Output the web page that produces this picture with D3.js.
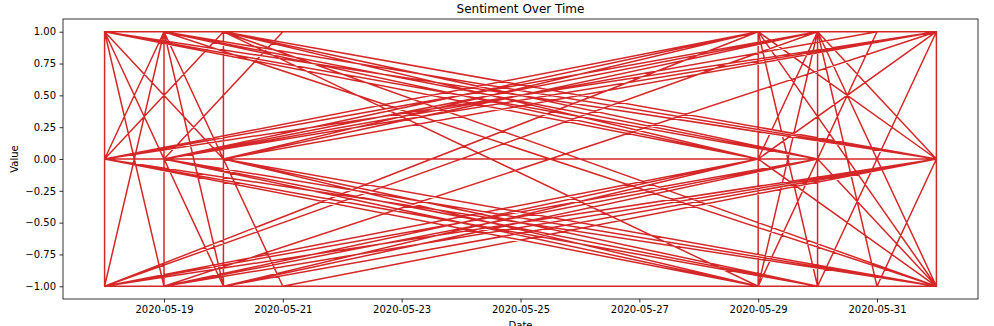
<!DOCTYPE html>
<html>
<head>
<meta charset="utf-8">
<script src="https://cdn.jsdelivr.net/npm/d3@7"></script>
<style>
  html, body { margin: 0; padding: 0; background: #fff; }
  svg { display: block; font-family: "DejaVu Sans", sans-serif; }
</style>
</head>
<body>
<svg id="chart" width="994" height="326"></svg>
<script>
// Sentiment readings in the order they were recorded (not sorted by date)
const dates = [
  "2020-05-18","2020-06-01","2020-06-01","2020-05-18","2020-05-18",
  "2020-05-19","2020-05-30","2020-05-19","2020-05-29","2020-05-20",
  "2020-06-01","2020-05-18","2020-05-29","2020-05-19","2020-05-30",
  "2020-05-20","2020-06-01","2020-05-19","2020-05-29","2020-05-18",
  "2020-05-30","2020-05-20","2020-06-01","2020-05-19","2020-05-31",
  "2020-05-18","2020-05-30","2020-05-18","2020-05-29","2020-05-20",
  "2020-06-01","2020-05-19","2020-05-30","2020-05-20","2020-05-29",
  "2020-05-18","2020-06-01","2020-05-20","2020-05-29","2020-05-19",
  "2020-05-30","2020-05-18","2020-05-29","2020-05-19","2020-06-01",
  "2020-05-20","2020-05-30","2020-05-19","2020-06-01","2020-05-18",
  "2020-05-29","2020-05-18","2020-06-01","2020-05-20","2020-05-30",
  "2020-05-19","2020-05-29","2020-05-18","2020-05-30","2020-05-19",
  "2020-06-01","2020-05-20","2020-05-30","2020-05-20","2020-05-29",
  "2020-05-19","2020-06-01","2020-05-18","2020-05-30","2020-05-18",
  "2020-05-29","2020-05-30","2020-06-01","2020-05-29","2020-06-01",
  "2020-05-30","2020-05-29","2020-05-31","2020-05-30","2020-06-01",
  "2020-05-29","2020-05-29","2020-05-19","2020-06-01","2020-05-18",
  "2020-05-30","2020-05-30","2020-05-20","2020-06-01","2020-05-19",
  "2020-05-29","2020-05-18","2020-05-30","2020-05-19","2020-05-31",
  "2020-05-21","2020-05-19","2020-05-20","2020-05-20","2020-05-18",
  "2020-05-19","2020-05-18","2020-05-19","2020-05-19","2020-05-20",
  "2020-05-18","2020-05-20","2020-05-21","2020-06-01","2020-05-19",
  "2020-05-29","2020-05-20","2020-06-01","2020-05-18","2020-05-30",
  "2020-05-19","2020-06-01","2020-05-20","2020-05-29","2020-05-18",
  "2020-06-01","2020-05-19","2020-05-29","2020-05-20","2020-05-30",
  "2020-05-18","2020-05-29","2020-05-19","2020-06-01","2020-05-20",
  "2020-05-30","2020-05-18","2020-06-01","2020-05-19","2020-05-29",
  "2020-05-20","2020-05-30","2020-06-01","2020-05-31","2020-05-30",
  "2020-05-29","2020-06-01","2020-05-30","2020-05-29","2020-06-01",
  "2020-05-18","2020-05-30","2020-05-20","2020-06-01","2020-05-19",
  "2020-05-29","2020-05-19","2020-05-30","2020-05-18","2020-05-29",
  "2020-05-20","2020-06-01","2020-05-21","2020-05-19","2020-05-30",
  "2020-05-18","2020-05-29","2020-05-20","2020-06-01","2020-05-19",
  "2020-05-30","2020-05-18","2020-06-01","2020-05-20","2020-05-29",
  "2020-05-19","2020-05-30","2020-05-18","2020-05-29","2020-05-20",
  "2020-06-01","2020-05-19","2020-05-30","2020-05-18","2020-05-29",
  "2020-05-19","2020-06-01","2020-05-20","2020-05-30","2020-05-18",
  "2020-05-29","2020-05-20","2020-06-01","2020-05-19","2020-05-30"
];
const values = [
   1,  1, -1, -1,  1,
  -1,  0,  1,  0,  1,
   0,  0,  1,  0,  1,
   0,  1,  0, -1,  0,
  -1,  0, -1,  0,  1,
   1,  0, -1,  0, -1,
   0, -1,  0,  1, -1,
   0, -1,  0,  1,  1,
   0,  1,  0, -1,  0,
  -1,  0,  1, -1, -1,
   0,  1,  0,  0,  1,
   0,  1,  0, -1, -1,
   0,  1,  0, -1,  0,
   1,  0, -1,  0,  1,
   1, -1,  1,  0, -1,
   1, -1,  1,  0, -1,
   1, -1,  0,  1,  0,
   1, -1,  0,  1, -1,
   0,  1,  0,  0,  1,
   1,  0, -1,  1,  0,
   1, -1, -1,  1, -1,
   1,  0, -1,  0, -1,
   0,  1,  0, -1,  0,
   1,  0, -1,  0,  1,
   0, -1,  0,  0, -1,
   0, -1,  0, -1,  0,
   1,  0,  1,  0,  1,
   0,  1,  0, -1,  1,
   0,  1, -1,  1,  0,
  -1,  1,  1, -1,  0,
  -1,  0,  1,  0, -1,
   1,  0, -1,  1,  0,
  -1,  1,  0, -1,  1,
   0,  1,  0,  1,  0,
   0,  1,  0, -1,  0,
  -1,  0, -1, -1,  0,
  -1,  0, -1,  0,  0,
   1,  0,  1,  0,  1
];
const yTicks = [-1, -0.75, -0.5, -0.25, 0, 0.25, 0.5, 0.75, 1];
const xTickDates = ["2020-05-19","2020-05-21","2020-05-23","2020-05-25","2020-05-27","2020-05-29","2020-05-31"];

const parse = d3.utcParse("%Y-%m-%d");
const points = dates.map((d, i) => ({ date: parse(d), value: values[i] }));

const svg = d3.select("#chart");
const margin = { left: 63, right: 16, top: 19, bottom: 27 };
const W = 994, H = 326;
const iw = W - margin.left - margin.right;
const ih = H - margin.top - margin.bottom;

// Data extent padded by 5% on each side
const xExt = d3.extent(points, d => d.date);
const xPad = (xExt[1] - xExt[0]) * 0.05;
const x = d3.scaleUtc()
  .domain([new Date(+xExt[0] - xPad), new Date(+xExt[1] + xPad)])
  .range([0, iw]);
const yExt = d3.extent(points, d => d.value);
const yPad = (yExt[1] - yExt[0]) * 0.05;
const y = d3.scaleLinear()
  .domain([yExt[0] - yPad, yExt[1] + yPad])
  .range([ih, 0]);

const g = svg.append("g").attr("transform", `translate(${margin.left},${margin.top})`);

const line = d3.line().x(d => x(d.date)).y(d => y(d.value));
g.append("path")
  .datum(points)
  .attr("fill", "none")
  .attr("stroke", "#d62728")
  .attr("stroke-width", 1.5)
  .attr("stroke-linejoin", "round")
  .attr("stroke-linecap", "square")
  .attr("d", line);

// Frame
g.append("rect")
  .attr("x", 0).attr("y", 0).attr("width", iw).attr("height", ih)
  .attr("fill", "none").attr("stroke", "#000").attr("stroke-width", 0.8);

const fmtY = v => d3.format(".2f")(v).replace("-", "\u2212");
const yAxis = d3.axisLeft(y).tickValues(yTicks).tickFormat(fmtY).tickSize(3.5).tickPadding(3.5);
const xAxis = d3.axisBottom(x).tickValues(xTickDates.map(parse))
  .tickFormat(d3.utcFormat("%Y-%m-%d")).tickSize(3.5).tickPadding(3.5);

const ya = g.append("g").call(yAxis);
const xa = g.append("g").attr("transform", `translate(0,${ih})`).call(xAxis);
[ya, xa].forEach(a => {
  a.select(".domain").remove();
  a.selectAll(".tick line").attr("stroke", "#000").attr("stroke-width", 0.8);
  a.selectAll(".tick text").attr("fill", "#000").style("font-size", "10px")
    .style("font-family", "'DejaVu Sans', sans-serif");
});

svg.append("text")
  .attr("x", margin.left + iw / 2).attr("y", 13)
  .attr("text-anchor", "middle").style("font-size", "12px").attr("fill", "#000")
  .text("Sentiment Over Time");

svg.append("text")
  .attr("x", margin.left + iw / 2).attr("y", 329)
  .attr("text-anchor", "middle").style("font-size", "10px").attr("fill", "#000")
  .text("Date");

svg.append("text")
  .attr("transform", `translate(18,${margin.top + ih / 2}) rotate(-90)`)
  .attr("text-anchor", "middle").style("font-size", "10px").attr("fill", "#000")
  .text("Value");
</script>
</body>
</html>
